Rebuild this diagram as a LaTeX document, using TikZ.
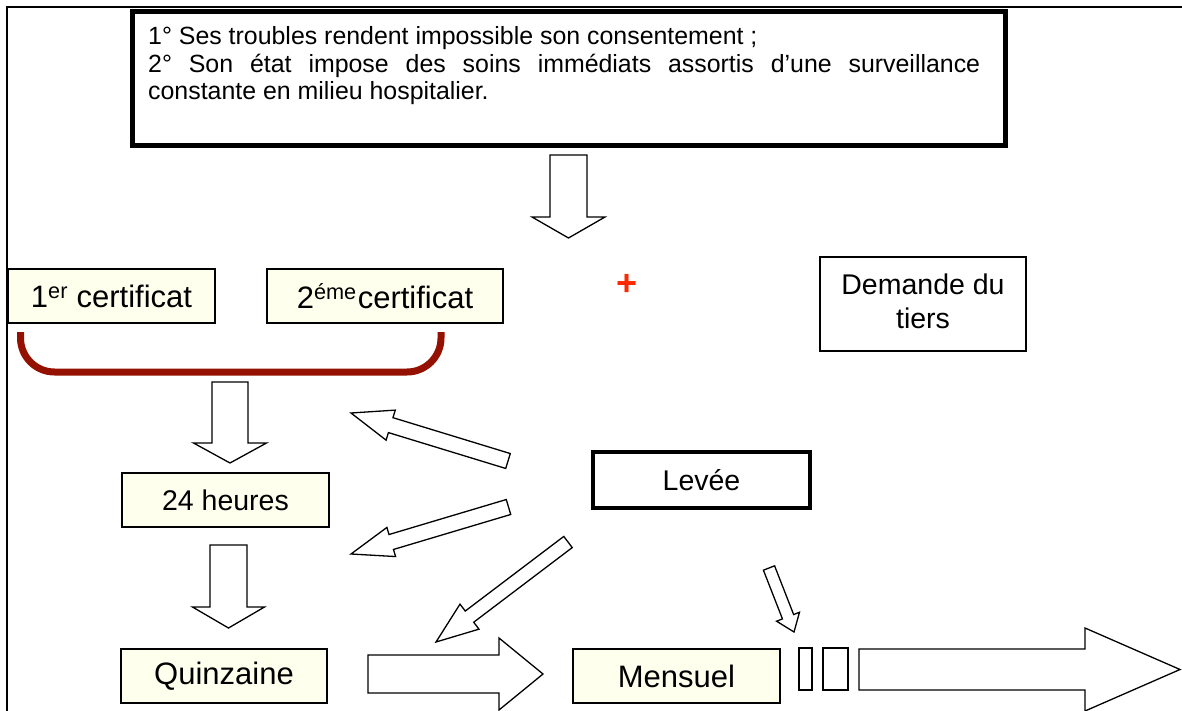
\documentclass[tikz,border=0pt]{standalone}
\usepackage{fontspec}
\setmainfont{Liberation Sans}
\usetikzlibrary{calc}
\definecolor{cream}{RGB}{255,255,238}
\definecolor{bracketred}{RGB}{148,17,0}
\definecolor{plusred}{RGB}{255,40,0}
\newcommand\hollowarrow[5]{% tail, tip, shaft half width, head half width, head length
  \coordinate (hb) at ($(#2)!#5!(#1)$);
  \draw[hollow] ($(#1)!#3!90:(#2)$) -- ($(hb)!#3!90:(#2)$) -- ($(hb)!#4!90:(#2)$) -- (#2)
     -- ($(hb)!#4!-90:(#2)$) -- ($(hb)!#3!-90:(#2)$) -- ($(#1)!#3!-90:(#2)$) -- cycle;}
\tikzset{
  hollow/.style={draw=black, fill=white, line width=1.3pt, line join=miter},
  topbox/.style={draw=black, line width=5pt, inner sep=0pt},
  creambox/.style={draw=black, fill=cream, line width=1.6pt, inner sep=0pt,
     minimum height=54pt, align=center},
  bigfont/.style={font=\fontsize{31pt}{36pt}\selectfont},
  midfont/.style={font=\fontsize{28.5pt}{34pt}\selectfont},
  whitebox/.style={draw=black, fill=white, inner sep=0pt, align=center},
  smallrect/.style={draw=black, fill=white, line width=1.3pt, inner sep=0pt},
  bracketline/.style={draw=bracketred, line width=7pt, rounded corners=34pt}
}
\begin{document}
\begin{tikzpicture}[x=1pt,y=-1pt]
\useasboundingbox (0,0) rectangle (1182,711);
\fill[white] (0,0) rectangle (1182,711);
% outer frame
\coordinate (fbl) at (7,711);
\coordinate (ftl) at (7,7);
\coordinate (ftr) at (1182,7);
\draw[line width=1.3pt] (fbl) -- (ftl) -- (ftr);

% top box
\node[topbox, minimum width=873pt, minimum height=134.5pt] (top) at (568.5,78.75) {};
\node[anchor=base west, inner sep=0pt] (toptext) at (148,45) {\parbox[t]{832pt}{%
  \fontsize{24.9pt}{27.5pt}\selectfont\tolerance=9999\hyphenpenalty=10000
  1° Ses troubles rendent impossible son consentement ;\\
  2° Son état impose des soins immédiats assortis d’une surveillance\linebreak
  constante en milieu hospitalier.}};

% certificates
\node[creambox, bigfont, minimum width=207pt] (c1) at (111.5,296) {1\textsuperscript{er} certificat};
\node[creambox, bigfont, minimum width=236pt] (c2) at (385,296) {2\textsuperscript{éme}\kern1pt certificat};
\node[text=plusred, inner sep=0pt, font=\fontsize{36pt}{36pt}\selectfont\bfseries] (plus) at (627,285) {+};
\node[whitebox, midfont, line width=2pt, minimum width=206pt, minimum height=94pt] (dem) at (923,304) {Demande du\\tiers\vphantom{p}};

% bracket
\coordinate (bl) at (20.5,332);
\coordinate (br) at (441,332);
\draw[bracketline] (bl) -- (20.5,372) -- (441,372) -- (br);

% boxes
\node[creambox, midfont, minimum width=207pt] (h24) at (225.5,500) {24 heures};
\node[creambox, bigfont, minimum width=206pt] (quinz) at (224,676) {Quinzaine};
\node[creambox, bigfont, minimum width=207pt] (mens) at (676.5,676) {Mensuel};
\node[whitebox, midfont, line width=3.5pt, minimum width=217pt, minimum height=56pt] (levee) at (701.5,480) {Levée};
\node[smallrect, minimum width=13pt, minimum height=42pt] (r1) at (805.5,669) {};
\node[smallrect, minimum width=25pt, minimum height=42pt] (r2) at (835.5,669) {};

% arrow end points
\coordinate (a1t) at (568.5,155);  \coordinate (a1h) at (568.5,238);
\coordinate (a2t) at (230,382);    \coordinate (a2h) at (230,463);
\coordinate (a3t) at (228.5,545);  \coordinate (a3h) at (228.5,628);
\coordinate (aAt) at (508,461);    \coordinate (aAh) at (351,413);
\coordinate (aBt) at (508.5,507);  \coordinate (aBh) at (351,554);
\coordinate (aCt) at (568,542);    \coordinate (aCh) at (436,642);
\coordinate (aDt) at (769,568);    \coordinate (aDh) at (794,632);
\coordinate (aQt) at (368,674);    \coordinate (aQh) at (543,674);
\coordinate (aBigt) at (859,669.5); \coordinate (aBigh) at (1180,669.5);

\hollowarrow{a1t}{a1h}{18.5pt}{36.5pt}{21pt}
\hollowarrow{a2t}{a2h}{18pt}{36.5pt}{20pt}
\hollowarrow{a3t}{a3h}{18.5pt}{36pt}{21pt}
\hollowarrow{aAt}{aAh}{7.8pt}{15.7pt}{41.5pt}
\hollowarrow{aBt}{aBh}{7.8pt}{15.2pt}{42pt}
\hollowarrow{aCt}{aCh}{7pt}{15.7pt}{42pt}
\hollowarrow{aDt}{aDh}{6pt}{12.3pt}{16.4pt}
\hollowarrow{aQt}{aQh}{19pt}{36pt}{44pt}
\hollowarrow{aBigt}{aBigh}{20.5pt}{41.5pt}{95pt}
\end{tikzpicture}
\end{document}
